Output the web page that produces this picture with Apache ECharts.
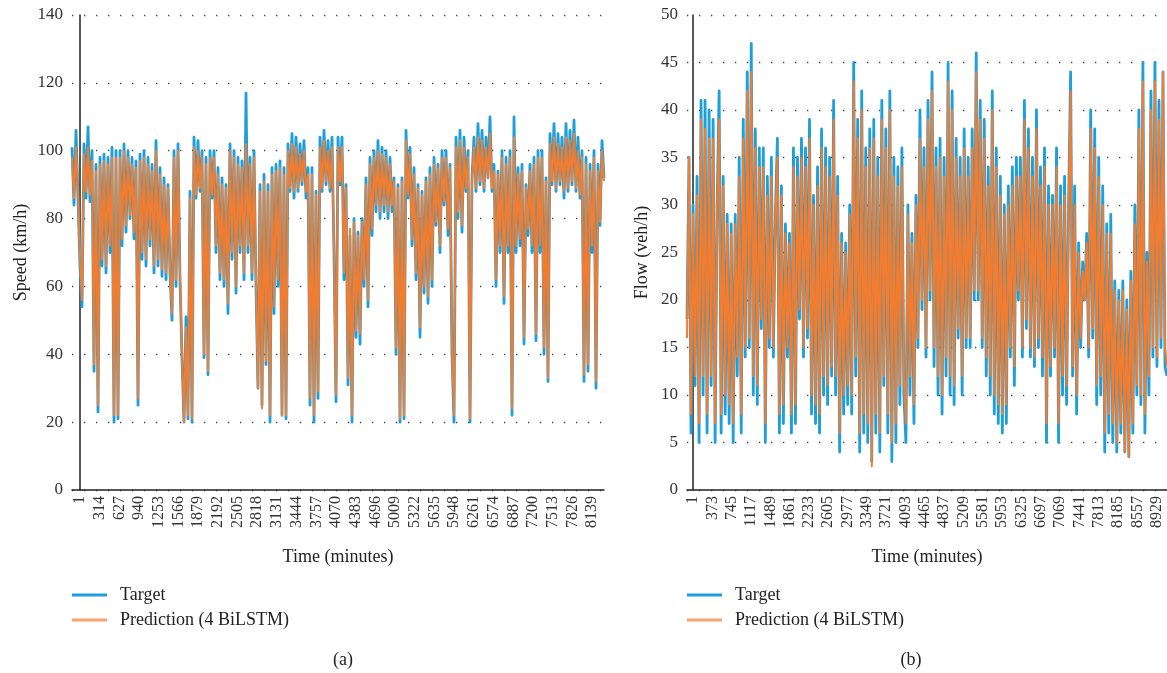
<!DOCTYPE html>
<html>
<head>
<meta charset="utf-8">
<script src="https://cdn.jsdelivr.net/npm/echarts@6/dist/echarts.min.js"></script>
<style>
html, body { margin: 0; padding: 0; background: #fff; }
#main { width: 1167px; height: 673px; }
</style>
</head>
<body>
<div id="main"></div>
<script>
// tick labels on the time axes
var speedTicks = [1, 314, 627, 940, 1253, 1566, 1879, 2192, 2505, 2818, 3131, 3444, 3757, 4070,
    4383, 4696, 5009, 5322, 5635, 5948, 6261, 6574, 6887, 7200, 7513, 7826, 8139];
var flowTicks = [1, 373, 745, 1117, 1489, 1861, 2233, 2605, 2977, 3349, 3721, 4093, 4465,
    4837, 5209, 5581, 5953, 6325, 6697, 7069, 7441, 7813, 8185, 8557, 8929];

// time range of each panel (minutes)
var speedRange = [-126, 8327];
var flowRange = [-114, 9123];

// (a) speed, km/h at evenly spaced times
var speedTarget = [
    101, 84, 106, 86, 66, 54, 102, 86, 107, 85,
    100, 35, 96, 23, 98, 66, 99, 64, 98, 70,
    101, 20, 100, 21, 100, 72, 102, 76, 100, 80,
    98, 74, 97, 25, 99, 68, 100, 66, 98, 72,
    96, 64, 103, 66, 95, 63, 92, 62, 90, 64,
    50, 100, 60, 102, 62, 39, 20, 51, 21, 88,
    20, 104, 86, 103, 88, 100, 39, 98, 34, 100,
    86, 100, 70, 95, 62, 92, 60, 90, 52, 102,
    68, 100, 58, 98, 70, 97, 62, 117, 70, 98,
    62, 100, 60, 30, 90, 25, 93, 37, 90, 20,
    95, 52, 96, 60, 97, 22, 95, 21, 102, 88,
    105, 86, 104, 88, 102, 90, 103, 86, 95, 25,
    95, 20, 88, 27, 104, 88, 106, 90, 103, 88,
    104, 70, 26, 104, 90, 104, 62, 90, 31, 75,
    20, 80, 45, 76, 43, 80, 60, 92, 54, 98,
    75, 100, 82, 103, 80, 101, 82, 100, 80, 98,
    82, 92, 40, 90, 20, 92, 21, 106, 86, 101,
    72, 95, 62, 90, 45, 88, 58, 92, 55, 95,
    60, 98, 78, 96, 70, 100, 84, 100, 75, 96,
    40, 20, 104, 80, 106, 76, 104, 88, 100, 20,
    92, 104, 88, 108, 90, 106, 88, 104, 92, 110,
    88, 96, 60, 94, 70, 100, 55, 98, 70, 100,
    22, 110, 70, 95, 72, 96, 43, 90, 75, 96,
    70, 98, 44, 100, 70, 100, 40, 92, 32, 105,
    90, 108, 88, 105, 90, 104, 86, 108, 88, 106,
    90, 109, 88, 104, 86, 100, 32, 98, 35, 96,
    70, 100, 30, 96, 78, 103, 92
];
var speedPred = [
    98, 86, 101, 88, 68, 56, 99, 88, 101, 87,
    97, 37, 94, 25, 96, 68, 97, 66, 96, 72,
    98, 22, 98, 22, 98, 74, 100, 78, 98, 81,
    96, 76, 95, 27, 97, 70, 98, 68, 96, 74,
    94, 66, 100, 68, 93, 65, 90, 64, 89, 66,
    52, 98, 62, 100, 64, 40, 20, 48, 22, 86,
    21, 101, 87, 100, 89, 98, 40, 96, 35, 98,
    87, 98, 72, 93, 64, 90, 62, 89, 55, 100,
    70, 98, 60, 96, 72, 95, 64, 102, 72, 96,
    64, 98, 62, 30, 88, 24, 91, 38, 88, 22,
    93, 54, 94, 62, 95, 22, 93, 22, 100, 89,
    102, 88, 101, 89, 99, 91, 100, 88, 93, 27,
    93, 22, 87, 29, 101, 89, 103, 91, 100, 89,
    101, 72, 28, 101, 91, 101, 64, 89, 33, 77,
    22, 79, 47, 75, 46, 79, 62, 90, 56, 96,
    77, 98, 84, 100, 82, 99, 84, 98, 82, 96,
    84, 91, 42, 89, 21, 91, 22, 103, 87, 99,
    74, 93, 64, 89, 48, 87, 60, 91, 57, 93,
    62, 96, 79, 95, 72, 98, 85, 98, 77, 95,
    42, 22, 101, 82, 103, 78, 101, 89, 98, 21,
    91, 101, 89, 104, 91, 103, 89, 101, 92, 105,
    89, 94, 62, 93, 72, 98, 57, 96, 72, 98,
    24, 104, 72, 93, 74, 94, 45, 89, 77, 94,
    72, 96, 46, 98, 72, 98, 42, 91, 33, 102,
    91, 104, 89, 102, 91, 101, 88, 104, 89, 103,
    91, 105, 89, 100, 87, 98, 34, 96, 37, 94,
    72, 98, 32, 94, 79, 100, 91
];

// (b) flow, veh/h
var flowTarget = [
    18, 35, 6, 30, 11, 33, 5, 41, 10, 41, 6, 40, 11, 39, 5, 30, 42, 6, 33, 8,
    29, 7, 28, 5, 29, 12, 35, 6, 39, 14, 44, 15, 47, 10, 38, 9, 36, 17, 36, 5,
    33, 15, 35, 14, 29, 37, 6, 32, 7, 28, 14, 27, 6, 36, 7, 35, 18, 37, 14, 36,
    16, 39, 8, 31, 7, 34, 6, 38, 10, 36, 9, 35, 12, 41, 10, 33, 4, 27, 8, 26,
    9, 30, 8, 45, 12, 39, 4, 42, 6, 36, 5, 38, 3, 39, 6, 35, 4, 41, 11, 38,
    6, 42, 3, 35, 5, 34, 9, 36, 10, 5, 30, 10, 27, 7, 31, 15, 40, 19, 36, 14,
    41, 20, 44, 13, 36, 10, 37, 8, 35, 12, 45, 10, 42, 9, 37, 16, 35, 10, 38, 15,
    35, 15, 38, 20, 46, 20, 41, 15, 39, 12, 34, 10, 42, 8, 36, 7, 33, 6, 30, 7,
    32, 14, 34, 11, 35, 20, 35, 14, 41, 17, 38, 14, 35, 13, 40, 15, 34, 12, 36, 5,
    32, 12, 31, 14, 36, 5, 32, 10, 33, 9, 30, 44, 12, 32, 8, 26, 15, 24, 20, 27,
    14, 40, 16, 38, 9, 35, 10, 32, 4, 28, 6, 29, 5, 22, 4, 21, 6, 22, 4, 20,
    3.5, 23, 6, 30, 10, 40, 9, 45, 6, 25, 10, 42, 14, 45, 13, 41, 15, 44, 13, 12
];
var flowPred = [
    16, 35, 8, 29, 12, 31, 7, 39, 12, 38, 8, 37, 12, 37, 7, 29, 39, 8, 32, 10,
    28, 9, 27, 7, 28, 14, 33, 8, 37, 15, 42, 16, 44, 12, 36, 11, 34, 18, 34, 7,
    31, 16, 33, 15, 28, 35, 8, 31, 9, 27, 15, 26, 8, 34, 9, 33, 19, 35, 15, 34,
    17, 37, 10, 30, 9, 32, 8, 36, 12, 34, 11, 33, 13, 39, 12, 31, 6, 26, 10, 25,
    11, 29, 10, 43, 14, 37, 6, 40, 8, 34, 7, 36, 2.5, 37, 8, 33, 6, 39, 12, 36,
    8, 40, 5, 33, 7, 32, 11, 34, 12, 7, 29, 12, 26, 9, 30, 16, 37, 20, 34, 15,
    39, 21, 42, 15, 34, 12, 35, 10, 33, 14, 43, 12, 40, 11, 35, 17, 33, 12, 36, 16,
    33, 16, 36, 21, 44, 21, 39, 16, 37, 14, 32, 12, 40, 10, 34, 9, 31, 8, 29, 9,
    30, 15, 32, 13, 33, 21, 33, 15, 39, 18, 36, 15, 33, 14, 38, 16, 32, 14, 34, 7,
    30, 13, 30, 15, 34, 7, 30, 12, 31, 11, 29, 42, 13, 30, 10, 25, 16, 23, 20, 26,
    15, 38, 17, 36, 11, 33, 12, 30, 6, 27, 8, 27, 7, 21, 5, 20, 7, 21, 4, 19,
    3.5, 22, 7, 28, 11, 38, 10, 43, 8, 24, 12, 40, 15, 43, 14, 39, 16, 44, 15, 13
];

var BLUE = '#1e9fda';
var ORANGE = '#f47c2e';
var FONT = 'Liberation Serif';

function toPairs(values, range) {
    var step = (range[1] - range[0]) / (values.length - 1);
    var out = [];
    for (var i = 0; i < values.length; i++) {
        out.push([range[0] + i * step, values[i]]);
    }
    return out;
}

function makeXAxis(idx, ticks, range) {
    return {
        type: 'value',
        gridIndex: idx,
        min: range[0],
        max: range[1],
        name: 'Time (minutes)',
        nameLocation: 'middle',
        nameGap: 58,
        nameTextStyle: { fontFamily: FONT, fontSize: 18, color: '#222' },
        axisLine: { onZero: false, lineStyle: { color: '#222', width: 1.5 } },
        axisTick: { show: false },
        splitLine: { show: false },
        axisLabel: {
            customValues: ticks,
            formatter: function (v) { return String(v); },
            rotate: 90,
            margin: 6,
            fontFamily: FONT,
            fontSize: 16,
            color: '#333'
        }
    };
}

function makeYAxis(idx, name, max, interval, gap) {
    return {
        type: 'value',
        gridIndex: idx,
        min: 0,
        max: max,
        interval: interval,
        name: name,
        nameLocation: 'middle',
        nameGap: gap,
        nameTextStyle: { fontFamily: FONT, fontSize: 18, color: '#222' },
        axisLine: { show: true, lineStyle: { color: '#222', width: 1.5 } },
        axisTick: { show: false },
        axisLabel: { margin: 9, fontFamily: FONT, fontSize: 17, color: '#333' },
        splitLine: {
            show: true,
            lineStyle: { color: '#444', width: 1.3, type: [1.3, 10.7] }
        }
    };
}

function legendFor(left) {
    return {
        orient: 'vertical',
        left: left,
        top: 581,
        itemWidth: 35,
        itemHeight: 3,
        itemGap: 7,
        icon: 'rect',
        textStyle: { fontFamily: FONT, fontSize: 18, color: '#222', padding: [0, 0, 0, 8] },
        data: [
            { name: 'Target', itemStyle: { color: BLUE } },
            { name: 'Prediction (4 BiLSTM)', itemStyle: { color: '#f7a26b' } }
        ]
    };
}

function lineSeries(name, idx, data, color, width) {
    return {
        name: name,
        type: 'line',
        xAxisIndex: idx,
        yAxisIndex: idx,
        data: data,
        symbol: 'none',
        showSymbol: false,
        lineStyle: { color: color, width: width, join: 'round' },
        itemStyle: { color: color }
    };
}

var chart = echarts.init(document.getElementById('main'));
chart.setOption({
    animation: false,
    backgroundColor: '#fff',
    title: [
        { text: '(a)', left: 338, top: 646, textAlign: 'center',
          textStyle: { fontFamily: FONT, fontSize: 18, fontWeight: 'normal', color: '#222' } },
        { text: '(b)', left: 906, top: 646, textAlign: 'center',
          textStyle: { fontFamily: FONT, fontSize: 18, fontWeight: 'normal', color: '#222' } }
    ],
    legend: [legendFor(67), legendFor(682)],
    grid: [
        { left: 72, top: 15, width: 532, height: 475 },
        { left: 687, top: 15, width: 480, height: 475 }
    ],
    xAxis: [makeXAxis(0, speedTicks, speedRange), makeXAxis(1, flowTicks, flowRange)],
    yAxis: [makeYAxis(0, 'Speed (km/h)', 140, 20, 42), makeYAxis(1, 'Flow (veh/h)', 50, 5, 36)],
    series: [
        lineSeries('Target', 0, toPairs(speedTarget, speedRange), BLUE, 2.8),
        lineSeries('Prediction (4 BiLSTM)', 0, toPairs(speedPred, speedRange), ORANGE, 2),
        lineSeries('Target', 1, toPairs(flowTarget, flowRange), BLUE, 2.8),
        lineSeries('Prediction (4 BiLSTM)', 1, toPairs(flowPred, flowRange), ORANGE, 2)
    ]
});
</script>
</body>
</html>
